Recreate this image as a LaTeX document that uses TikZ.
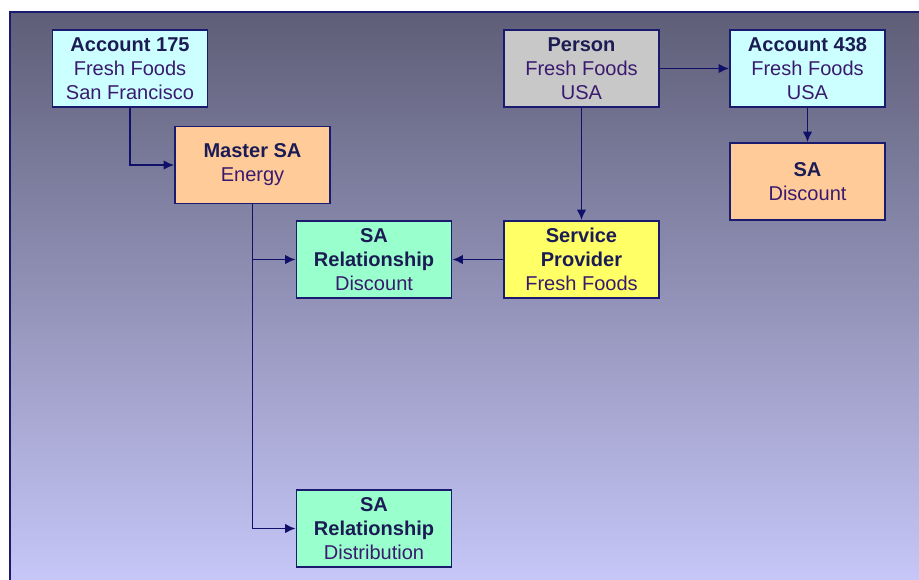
\documentclass[tikz,border=0pt]{standalone}
\usepackage{fontspec}
\setmainfont{Liberation Sans}
\usepackage{tikz}
\usetikzlibrary{shapes,arrows,arrows.meta,positioning,calc}
\usepackage{xcolor}
\definecolor{framecol}{HTML}{1A1A6E}
\definecolor{linecol}{HTML}{10106A}
\definecolor{titlecol}{HTML}{1C1C55}
\definecolor{textcol}{HTML}{3A1A6E}
\definecolor{acctfill}{HTML}{CCFFFF}
\definecolor{safill}{HTML}{FFCC99}
\definecolor{persfill}{HTML}{C8C8C8}
\definecolor{relfill}{HTML}{99FFCC}
\definecolor{provfill}{HTML}{FFFF66}
\definecolor{bgtop}{HTML}{5E5E78}
\definecolor{bgbot}{HTML}{C8C8FA}

\newcommand{\titleline}[1]{{\bfseries\color{titlecol}#1}}

\begin{document}
\begin{tikzpicture}[
  x=0.02cm, y=-0.02cm,
  ent/.style={draw=framecol, line width=1pt, minimum width=3.1cm,
              minimum height=1.54cm, inner sep=0pt, align=center,
              text=textcol, font=\fontsize{11.4}{13.66}\selectfont},
  acct/.style={ent, fill=acctfill},
  sabox/.style={ent, fill=safill},
  pers/.style={ent, fill=persfill},
  rel/.style={ent, fill=relfill},
  prov/.style={ent, fill=provfill},
  arr/.style={-{Latex[length=6pt,width=5.5pt]}, line width=1.1pt, draw=linecol}
]

\useasboundingbox (0,0) rectangle (919,579);
\begin{scope}
  \clip (0,0) rectangle (919,579);
  \shade[top color=bgtop, bottom color=bgbot, draw=framecol, line width=1pt]
    (10,12) rectangle (930,590);
\end{scope}

\node[acct]  (acc175)   at (130,68.5)    {\titleline{Account 175}\\Fresh Foods\\San Francisco};
\node[sabox] (master)   at (252.5,165)   {\titleline{Master SA}\\Energy};
\node[pers]  (person)   at (581.5,68.5)  {\titleline{Person}\\Fresh Foods\\USA};
\node[acct]  (acc438)   at (807.5,68.5)  {\titleline{Account 438}\\Fresh Foods\\USA};
\node[sabox] (sadisc)   at (807.5,181.5) {\titleline{SA}\\Discount};
\node[rel]   (reldisc)  at (374,259.5)   {\titleline{SA}\\\titleline{Relationship}\\Discount};
\node[prov]  (provider) at (581.5,259.5) {\titleline{Service}\\\titleline{Provider}\\Fresh Foods};
\node[rel]   (reldist)  at (374,528.5)   {\titleline{SA}\\\titleline{Relationship}\\Distribution};

\draw[arr] (acc175.south) |- (master.west);
\draw[arr] (master.south) |- (reldisc.west);
\draw[arr] (master.south) |- (reldist.west);
\draw[arr] (person.east)  -- (acc438.west);
\draw[arr] (acc438.south) -- (sadisc.north);
\draw[arr] (person.south) -- (provider.north);
\draw[arr] (provider.west) -- (reldisc.east);

\end{tikzpicture}
\end{document}
